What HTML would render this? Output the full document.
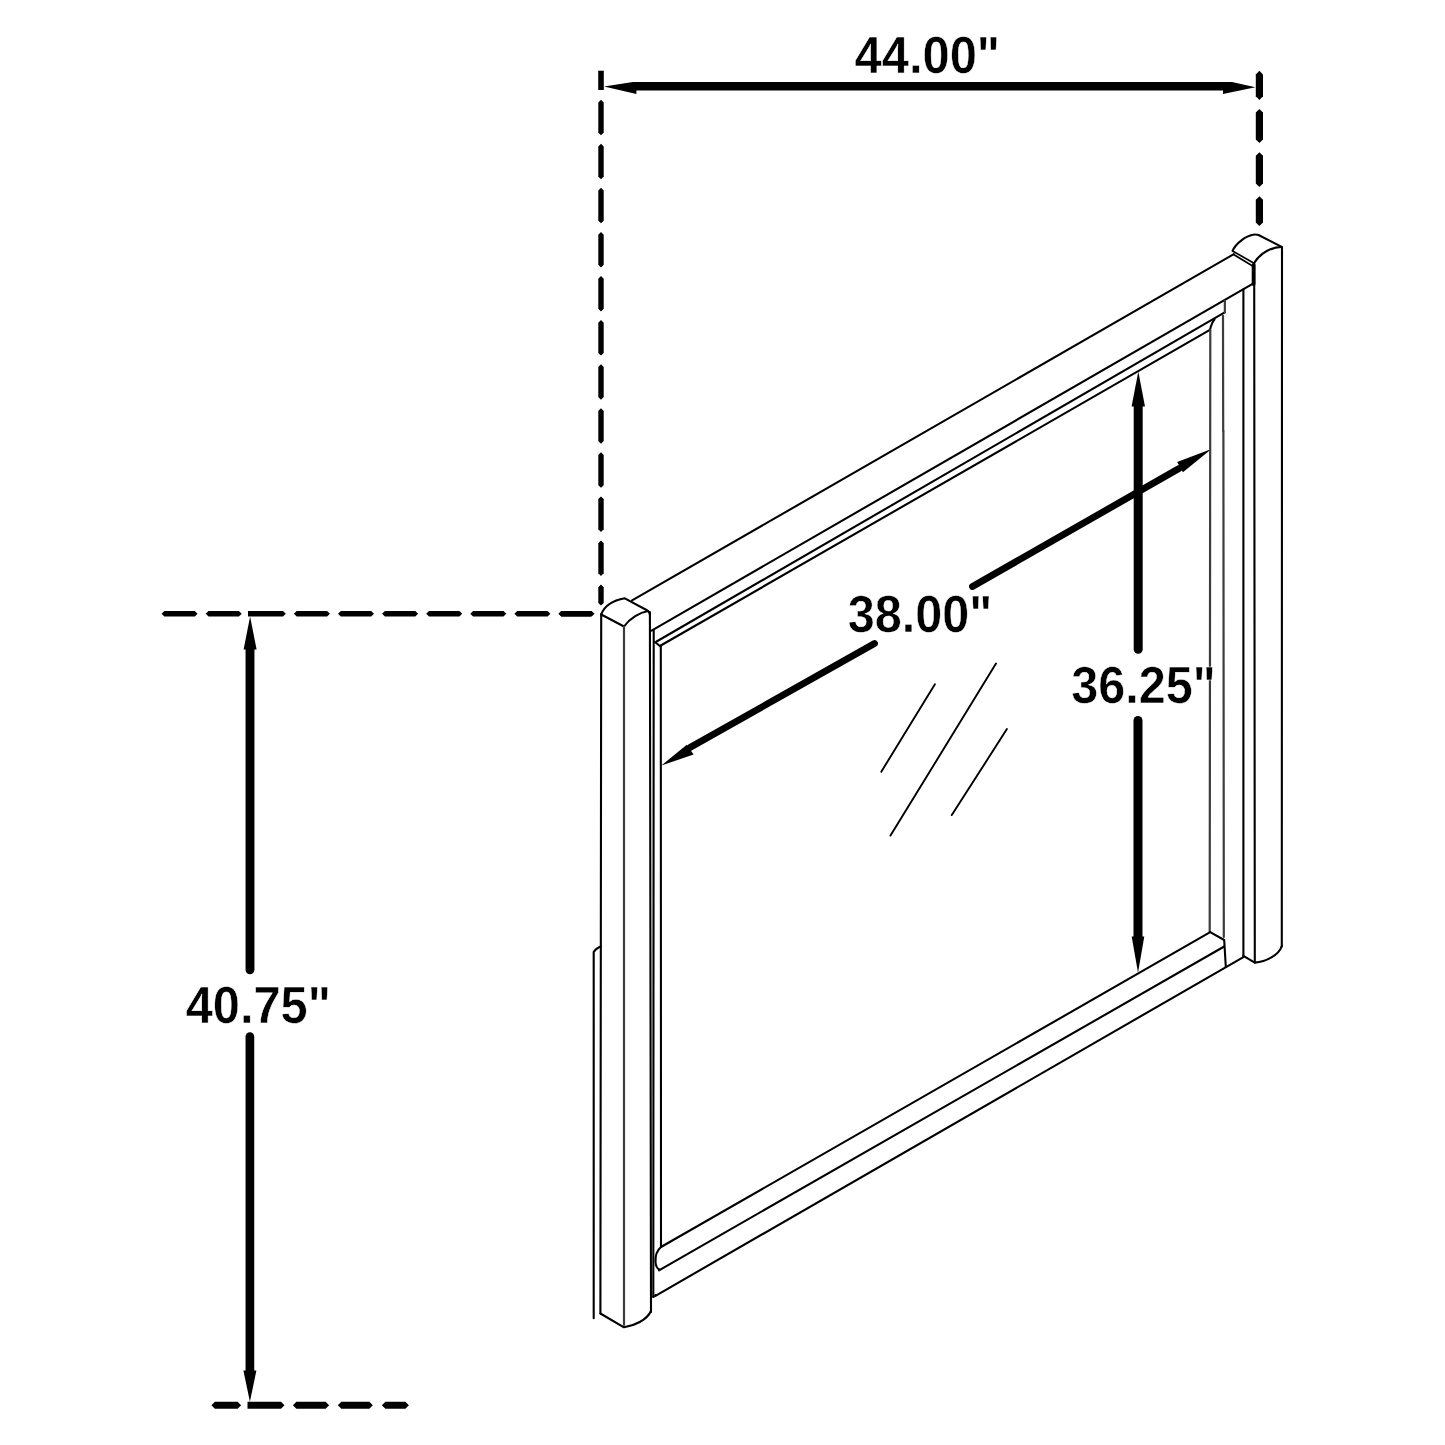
<!DOCTYPE html>
<html><head><meta charset="utf-8"><style>
html,body{margin:0;padding:0;background:#fff;}
svg{display:block;}
</style></head><body>
<svg width="1445" height="1445" viewBox="0 0 1445 1445">
<rect width="1445" height="1445" fill="#fff"/>
<polygon points="598.2,70.7 603.8,70.7 603.8,90 598.2,90" fill="#000"/>
<polygon points="598.3,102.4 601,99.7 603.7,102.4 603.7,132.5 601,135.2 598.3,132.5" fill="#000"/>
<polygon points="598.3,146.48 601,143.78 603.7,146.48 603.7,176.58 601,179.28 598.3,176.58" fill="#000"/>
<polygon points="598.3,190.56 601,187.86 603.7,190.56 603.7,220.66000000000003 601,223.36 598.3,220.66000000000003" fill="#000"/>
<polygon points="598.3,234.64 601,231.94 603.7,234.64 603.7,264.74 601,267.44 598.3,264.74" fill="#000"/>
<polygon points="598.3,278.71999999999997 601,276.02 603.7,278.71999999999997 603.7,308.82 601,311.52 598.3,308.82" fill="#000"/>
<polygon points="598.3,322.79999999999995 601,320.09999999999997 603.7,322.79999999999995 603.7,352.9 601,355.59999999999997 598.3,352.9" fill="#000"/>
<polygon points="598.3,366.87999999999994 601,364.17999999999995 603.7,366.87999999999994 603.7,396.97999999999996 601,399.67999999999995 598.3,396.97999999999996" fill="#000"/>
<polygon points="598.3,410.9599999999999 601,408.25999999999993 603.7,410.9599999999999 603.7,441.05999999999995 601,443.75999999999993 598.3,441.05999999999995" fill="#000"/>
<polygon points="598.3,455.0399999999999 601,452.3399999999999 603.7,455.0399999999999 603.7,485.13999999999993 601,487.8399999999999 598.3,485.13999999999993" fill="#000"/>
<polygon points="598.3,499.1199999999999 601,496.4199999999999 603.7,499.1199999999999 603.7,529.2199999999998 601,531.9199999999998 598.3,529.2199999999998" fill="#000"/>
<polygon points="598.3,543.1999999999999 601,540.4999999999999 603.7,543.1999999999999 603.7,573.2999999999998 601,575.9999999999999 598.3,573.2999999999998" fill="#000"/>
<polygon points="598.3,587.3000000000001 601,584.6 603.7,587.3000000000001 603.7,602.9 601,605.6 598.3,602.9" fill="#000"/>
<polygon points="1255.8000000000002,74.39999999999999 1259.4,70.8 1263.0,74.39999999999999 1263.0,96.30000000000001 1259.4,99.9 1255.8000000000002,96.30000000000001" fill="#000"/>
<polygon points="1255.8000000000002,112.6 1259.4,109 1263.0,112.6 1263.0,139.4 1259.4,143 1255.8000000000002,139.4" fill="#000"/>
<polygon points="1255.8000000000002,155.79999999999998 1259.4,152.2 1263.0,155.79999999999998 1263.0,183.4 1259.4,187 1255.8000000000002,183.4" fill="#000"/>
<polygon points="1255.8000000000002,199.79999999999998 1259.4,196.2 1263.0,199.79999999999998 1263.0,222.4 1259.4,226 1255.8000000000002,222.4" fill="#000"/>
<polygon points="604,86.5 633,82 1232,82 1255.4,87.2 1223,94 1223,90.6 636.4,90.6 636.4,94" fill="#000"/>
<polygon points="164.4,611.0 194.79999999999998,611.0 197.6,613.8 194.79999999999998,616.5999999999999 164.4,616.5999999999999 161.6,613.8" fill="#000"/>
<polygon points="208.5,611.0 238.89999999999998,611.0 241.7,613.8 238.89999999999998,616.5999999999999 208.5,616.5999999999999 205.7,613.8" fill="#000"/>
<polygon points="248.0,611.0 282.99999999999994,611.0 285.79999999999995,613.8 282.99999999999994,616.6 248.0,616.6" fill="#000"/>
<polygon points="296.7,611.0 327.09999999999997,611.0 329.9,613.8 327.09999999999997,616.5999999999999 296.7,616.5999999999999 293.9,613.8" fill="#000"/>
<polygon points="340.8,611.0 371.2,611.0 374.0,613.8 371.2,616.5999999999999 340.8,616.5999999999999 338.0,613.8" fill="#000"/>
<polygon points="384.90000000000003,611.0 415.3,611.0 418.1,613.8 415.3,616.5999999999999 384.90000000000003,616.5999999999999 382.1,613.8" fill="#000"/>
<polygon points="429.00000000000006,611.0 459.40000000000003,611.0 462.20000000000005,613.8 459.40000000000003,616.5999999999999 429.00000000000006,616.5999999999999 426.20000000000005,613.8" fill="#000"/>
<polygon points="473.1000000000001,611.0 503.50000000000006,611.0 506.30000000000007,613.8 503.50000000000006,616.5999999999999 473.1000000000001,616.5999999999999 470.30000000000007,613.8" fill="#000"/>
<polygon points="517.2,611.0 547.6000000000001,611.0 550.4000000000001,613.8 547.6000000000001,616.5999999999999 517.2,616.5999999999999 514.4000000000001,613.8" fill="#000"/>
<polygon points="561.3000000000001,611.0 591.7000000000002,611.0 594.5000000000001,613.8 591.7000000000002,616.5999999999999 561.3000000000001,616.5999999999999 558.5000000000001,613.8" fill="#000"/>
<polygon points="561.4,611.0 590.7,611.0 593.5,613.8 590.7,616.5999999999999 561.4,616.5999999999999 558.6,613.8" fill="#000"/>
<polygon points="214.9,1401.7 237.6,1401.7 241.1,1405.2 237.6,1408.7 214.9,1408.7 211.4,1405.2" fill="#000"/>
<polygon points="296.4,1401.7 325.6,1401.7 329.1,1405.2 325.6,1408.7 296.4,1408.7 292.9,1405.2" fill="#000"/>
<polygon points="341.3,1401.7 369.3,1401.7 372.8,1405.2 369.3,1408.7 341.3,1408.7 337.8,1405.2" fill="#000"/>
<polygon points="385.4,1401.7 405.4,1401.7 408.9,1405.2 405.4,1408.7 385.4,1408.7 381.9,1405.2" fill="#000"/>
<polygon points="247.5,1401.7 281,1401.7 284.5,1405.2 281,1408.7 247.5,1408.7" fill="#000"/>
<polygon points="250.1,616.6 256.6,649.5 243.6,649.5" fill="#000"/>
<path d="M245.55,648.5 L254.45,648.5 L254.45,969.8499999999999 A4.45,4.45 0 0 1 245.55,969.8499999999999 Z" fill="#000"/>
<polygon points="249.9,1401.7 256.4,1370.5 243.4,1370.5" fill="#000"/>
<path d="M245.55,1371.5 L254.25,1371.5 L254.25,1036.55 A4.35,4.35 0 0 0 245.55,1036.55 Z" fill="#000"/>
<polygon points="1138.3,371.6 1145.0,406.5 1131.6,406.5" fill="#000"/>
<path d="M1133.7,405.5 L1142.7,405.5 L1142.7,649.2 A4.5,4.5 0 0 1 1133.7,649.2 Z" fill="#000"/>
<polygon points="1138.0,972.8 1144.3,936.5 1131.7,936.5" fill="#000"/>
<path d="M1133.5,937.5 L1142.5,937.5 L1142.5,720.5 A4.5,4.5 0 0 0 1133.5,720.5 Z" fill="#000"/>
<line x1="690" y1="747.5" x2="874.5" y2="643.5" stroke="#000" stroke-width="6.8" stroke-linecap="round"/>
<polygon points="661.4,765.5 686.8,744.7 693.6,754.4" fill="#000"/>
<line x1="972.5" y1="586.5" x2="1179" y2="468.5" stroke="#000" stroke-width="6.8" stroke-linecap="round"/>
<polygon points="1211.5,448.9 1177.1,462 1182.9,472.2" fill="#000"/>
<line x1="881.3" y1="771.7" x2="934.9" y2="684.2" stroke="#000" stroke-width="1.9" stroke-linecap="round"/>
<line x1="890.5" y1="835.6" x2="996" y2="663.6" stroke="#000" stroke-width="1.9" stroke-linecap="round"/>
<line x1="951.8" y1="815.1" x2="1006.9" y2="729.1" stroke="#000" stroke-width="1.9" stroke-linecap="round"/>
<path d="M601.2,614.5 C604,607 612,600.5 624.8,598.3 L646.5,610 Q650,612 650,615" stroke="#000" stroke-width="2.1" fill="none" stroke-linejoin="round" stroke-linecap="round"/>
<path d="M648,611 C640,612.5 630,618 624,626.5 L601.2,614.5" stroke="#000" stroke-width="2.1" fill="none" stroke-linejoin="round" stroke-linecap="round"/>
<line x1="601.2" y1="614" x2="600.4" y2="1313.5" stroke="#000" stroke-width="2.1" stroke-linecap="round"/>
<line x1="624" y1="626.5" x2="624" y2="1325" stroke="#3c3c3c" stroke-width="2.2" stroke-linecap="round"/>
<line x1="649.9" y1="612" x2="651" y2="1312" stroke="#000" stroke-width="2.1" stroke-linecap="round"/>
<path d="M600.4,1313.5 L624,1327.3 C634,1326 647,1320 651,1311" stroke="#000" stroke-width="2.1" fill="none" stroke-linejoin="round" stroke-linecap="round"/>
<line x1="653.7" y1="630.6" x2="653.3" y2="1297" stroke="#000" stroke-width="2.1" stroke-linecap="round"/>
<line x1="660.8" y1="646.0" x2="661" y2="1247" stroke="#000" stroke-width="2.1" stroke-linecap="round"/>
<path d="M593.7,1318.3 L593.7,951.8 Q596,948.5 599,947.2 L601,946.5" stroke="#000" stroke-width="2.1" fill="none" stroke-linejoin="round" stroke-linecap="round"/>
<line x1="632.1" y1="600.4" x2="1233.8" y2="254.2" stroke="#000" stroke-width="2.1" stroke-linecap="round"/>
<line x1="651.6" y1="630.6" x2="1252.6" y2="283.8" stroke="#000" stroke-width="2.1" stroke-linecap="round"/>
<line x1="656.6" y1="641.5" x2="1224.3" y2="312.6" stroke="#000" stroke-width="2.1" stroke-linecap="round"/>
<line x1="659.9" y1="646.0" x2="1209.9" y2="329.9" stroke="#000" stroke-width="2.1" stroke-linecap="round"/>
<line x1="654.9" y1="642.0" x2="659.9" y2="646.0" stroke="#000" stroke-width="2.1" stroke-linecap="round"/>
<line x1="1224.85" y1="300.8" x2="1224.85" y2="312.4" stroke="#3c3c3c" stroke-width="2.2" stroke-linecap="round"/>
<path d="M1209.9,330 Q1212,322 1214.5,319.5" stroke="#000" stroke-width="2.1" fill="none" stroke-linejoin="round" stroke-linecap="round"/>
<line x1="1223" y1="315.8" x2="1223.2" y2="431" stroke="#3c3c3c" stroke-width="2.2" stroke-linecap="round"/>
<line x1="1223.4" y1="431" x2="1223.8" y2="937" stroke="#3c3c3c" stroke-width="2.2" stroke-linecap="round"/>
<line x1="1210.3" y1="330" x2="1209.7" y2="931.5" stroke="#3c3c3c" stroke-width="2.2" stroke-linecap="round"/>
<path d="M1232.6,250.8 C1236,243 1246,236 1253,234.8 Q1256,234.2 1258.5,235 L1281.3,246.6" stroke="#000" stroke-width="2.1" fill="none" stroke-linejoin="round" stroke-linecap="round"/>
<path d="M1281.3,247 C1272,247 1260,253 1253.9,263.2" stroke="#000" stroke-width="2.1" fill="none" stroke-linejoin="round" stroke-linecap="round"/>
<line x1="1233.0" y1="251.2" x2="1253.6" y2="263.0" stroke="#000" stroke-width="1.7" stroke-linecap="round"/>
<line x1="1233.6" y1="254.4" x2="1252.6" y2="265.9" stroke="#000" stroke-width="1.7" stroke-linecap="round"/>
<line x1="1254.2" y1="263" x2="1254.8" y2="962.6" stroke="#000" stroke-width="2.1" stroke-linecap="round"/>
<line x1="1253.6" y1="265" x2="1253.6" y2="284" stroke="#000" stroke-width="3.8" stroke-linecap="round"/>
<line x1="1282" y1="247" x2="1281.8" y2="946.5" stroke="#000" stroke-width="2.1" stroke-linecap="round"/>
<line x1="1243.4" y1="289.3" x2="1243.4" y2="955.9" stroke="#000" stroke-width="2.1" stroke-linecap="round"/>
<path d="M1243.4,955.9 L1254.8,962.6 C1266,962 1279,955 1281.8,946" stroke="#000" stroke-width="2.1" fill="none" stroke-linejoin="round" stroke-linecap="round"/>
<line x1="661" y1="1247" x2="1210.2" y2="932.2" stroke="#000" stroke-width="2.1" stroke-linecap="round"/>
<line x1="659" y1="1270.3" x2="1224.2" y2="946.5" stroke="#000" stroke-width="2.1" stroke-linecap="round"/>
<line x1="655.5" y1="1295.8" x2="1243.4" y2="957.1" stroke="#000" stroke-width="2.1" stroke-linecap="round"/>
<path d="M1210.2,932.2 L1224.2,940 L1225.8,966.8" stroke="#000" stroke-width="2.1" fill="none" stroke-linejoin="round" stroke-linecap="round"/>
<path d="M661,1247 Q655,1252 655.5,1262 Q656,1268 659,1269.3" stroke="#000" stroke-width="2.1" fill="none" stroke-linejoin="round" stroke-linecap="round"/>
<path d="M655.5,1295.2 Q653.5,1296 653.3,1297" stroke="#000" stroke-width="2.1" fill="none" stroke-linejoin="round" stroke-linecap="round"/>
<text transform="translate(854.53,73.1) scale(0.9493,1)" font-family="Liberation Sans" font-weight="bold" font-size="51.5" stroke="#fff" stroke-width="0.5">44.00&quot;</text><text transform="translate(185.73,1022.8) scale(0.9466,1)" font-family="Liberation Sans" font-weight="bold" font-size="51.5" stroke="#fff" stroke-width="0.5">40.75&quot;</text><text transform="translate(847.73,631.9) scale(0.9432,1)" font-family="Liberation Sans" font-weight="bold" font-size="51.5" stroke="#fff" stroke-width="0.5">38.00&quot;</text><text transform="translate(1071.33,702.8) scale(0.9426,1)" font-family="Liberation Sans" font-weight="bold" font-size="51.5" stroke="#fff" stroke-width="0.5">36.25&quot;</text>
</svg>
</body></html>
